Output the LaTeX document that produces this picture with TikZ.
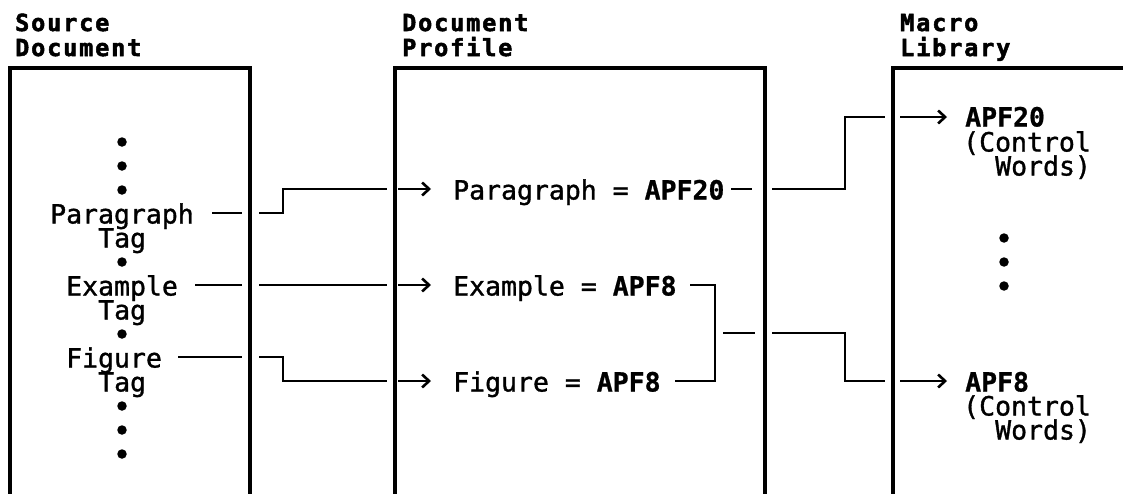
\documentclass[tikz,border=0pt]{standalone}
\usepackage{fontspec}
\newfontfamily\diagfont{DejaVu Sans Mono}[FakeBold=1.2, BoldFeatures={FakeBold=0.8}]
\newfontfamily\headfont{DejaVu Sans Mono}[LetterSpace=7.9, BoldFeatures={FakeBold=2.2}]
\usetikzlibrary{arrows.meta}

\tikzset{
  panel/.style={line width=3.2pt, line join=miter, line cap=rect},
  wire/.style={line width=2.2pt, line join=miter},
  pointer/.style={wire, -{Straight Barb[length=7pt,width=13pt,line width=2.6pt]}},
  txt/.style={font=\diagfont\fontsize{26.5}{23}\selectfont, inner sep=0pt, anchor=base west},
  strong/.style={txt, font=\diagfont\bfseries\fontsize{26.5}{23}\selectfont},
  heading/.style={txt, font=\headfont\bfseries\fontsize{23.5}{23}\selectfont},
  dot/.style={circle, fill=black, inner sep=0pt, minimum size=9.5pt}
}

\begin{document}
\begin{tikzpicture}[x=1pt, y=-1pt]
  \useasboundingbox (0,0) rectangle (1123,493);

  % the three panels, open at the bottom
  \draw[panel] (10,500) -- (10,68) -- (250,68) -- (250,500);
  \draw[panel] (395,500) -- (395,68) -- (765,68) -- (765,500);
  \draw[panel] (893,500) -- (893,68) -- (1130,68);

  % panel headings
  \node[heading] (hSrcA) at (15,31) {Source};
  \node[heading] (hSrcB) at (15,56) {Document};
  \node[heading] (hProA) at (402,31) {Document};
  \node[heading] (hProB) at (402,56) {Profile};
  \node[heading] (hMacA) at (900,31) {Macro};
  \node[heading] (hMacB) at (900,56) {Library};

  % source document contents
  \foreach \yy/\nm in {142/s1,166/s2,190/s3,262/s4,334/s5,406/s6,430/s7,454/s8}
    \node[dot] (\nm) at (122,\yy) {};
  \node[txt] (srcPara) at (50,223.5) {Paragraph};
  \node[txt] (srcParaT) at (98,247.5) {Tag};
  \node[txt] (srcEx) at (66,295.5) {Example};
  \node[txt] (srcExT) at (98,319.5) {Tag};
  \node[txt] (srcFig) at (66,367.5) {Figure};
  \node[txt] (srcFigT) at (98,391.5) {Tag};

  % profile contents
  \node[txt] (proPara) at (453,199.5) {Paragraph = \textbf{APF20}};
  \node[txt] (proEx) at (453,295.5) {Example = \textbf{APF8}};
  \node[txt] (proFig) at (453,391.5) {Figure = \textbf{APF8}};

  % macro library contents
  \node[strong] (macA) at (965,126.5) {APF20};
  \node[txt] (macA2) at (963,151.5) {(Control};
  \node[txt] (macA3) at (995,175.5) {Words)};
  \foreach \yy/\nm in {238/m1,262/m2,286/m3}
    \node[dot] (\nm) at (1004,\yy) {};
  \node[strong] (macB) at (965,391.5) {APF8};
  \node[txt] (macB2) at (963,415.5) {(Control};
  \node[txt] (macB3) at (995,439.5) {Words)};

  % connector end points
  \coordinate (pA) at (212,213);  \coordinate (pB) at (242,213);
  \coordinate (pC) at (259,213);  \coordinate (pD) at (283,189);
  \coordinate (pE) at (387,189);
  \coordinate (eA) at (195,285);  \coordinate (eB) at (242,285);
  \coordinate (eC) at (259,285);  \coordinate (eE) at (387,285);
  \coordinate (fA) at (178,357);  \coordinate (fB) at (242,357);
  \coordinate (fC) at (259,357);  \coordinate (fD) at (283,381);
  \coordinate (fE) at (387,381);
  \coordinate (aP1) at (398,189); \coordinate (aP2) at (431,189);
  \coordinate (aE1) at (398,285); \coordinate (aE2) at (431,285);
  \coordinate (aF1) at (398,381); \coordinate (aF2) at (431,381);
  \coordinate (qA) at (731,189);  \coordinate (qB) at (752,189);
  \coordinate (qC) at (772,189);  \coordinate (qD) at (845,117);
  \coordinate (qE) at (885,117);
  \coordinate (bA) at (690,285);  \coordinate (bB) at (715,381);
  \coordinate (bC) at (675,381);
  \coordinate (tA) at (723,333);  \coordinate (tB) at (755,333);
  \coordinate (tC) at (772,333);  \coordinate (tD) at (845,381);
  \coordinate (tE) at (885,381);
  \coordinate (mA1) at (900,117); \coordinate (mA2) at (947,117);
  \coordinate (mB1) at (900,381); \coordinate (mB2) at (947,381);

  % source tags to profile entries
  \draw[wire] (pA) -- (pB);
  \draw[wire] (pC) -| (pD) -- (pE);
  \draw[pointer] (aP1) -- (aP2);
  \draw[wire] (eA) -- (eB);
  \draw[wire] (eC) -- (eE);
  \draw[pointer] (aE1) -- (aE2);
  \draw[wire] (fA) -- (fB);
  \draw[wire] (fC) -| (fD) -- (fE);
  \draw[pointer] (aF1) -- (aF2);

  % profile entries to macros
  \draw[wire] (qA) -- (qB);
  \draw[wire] (qC) -| (qD) -- (qE);
  \draw[pointer] (mA1) -- (mA2);
  \draw[wire] (bA) -| (bB) -- (bC);
  \draw[wire] (tA) -- (tB);
  \draw[wire] (tC) -| (tD) -- (tE);
  \draw[pointer] (mB1) -- (mB2);
\end{tikzpicture}
\end{document}
